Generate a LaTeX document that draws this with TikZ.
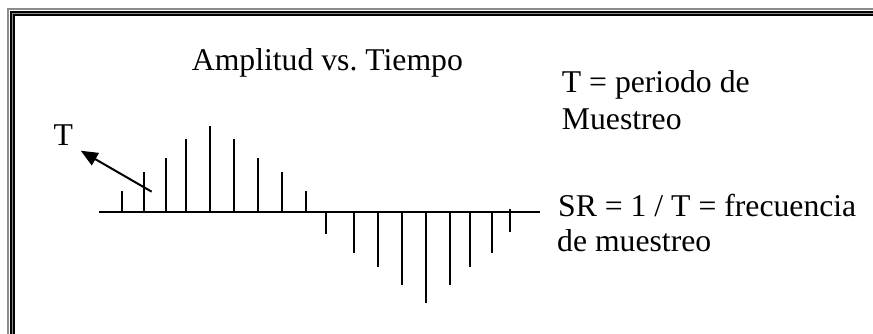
\documentclass[tikz,border=0pt]{standalone}
\usepackage{fontspec}
\setmainfont{Liberation Serif}
\usetikzlibrary{arrows.meta}
\begin{document}
\begin{tikzpicture}[x=1pt,y=-1pt,
  lbl/.style={anchor=base west,inner sep=0pt,font=\fontsize{31.7}{36.5}\selectfont},
  stem/.style={line width=2pt},
  framegray/.style={draw=black!45},
  frameblack/.style={draw=black}]
\useasboundingbox (0,0) rectangle (873,333);
% frame (top and left, running off the right and bottom)
\draw[framegray,line width=2pt] (8,335) -- (8,9) -- (875,9);
\draw[frameblack,line width=1.6pt] (10.8,335) -- (10.8,11.8) -- (875,11.8);
\draw[framegray,line width=0.8pt] (12.4,335) -- (12.4,13.4) -- (875,13.4);
\draw[frameblack,line width=1.6pt] (13.9,335) -- (13.9,14.9) -- (875,14.9);
% texts
\node[lbl] (title) at (191.7,70.5) {Amplitud vs.\ Tiempo};
\node[lbl] (tlab) at (53.3,145) {T};
\node[lbl] (per1) at (561.7,92.7) {T = periodo de};
\node[lbl] (per2) at (561.7,129) {Muestreo};
\node[lbl] (sr1) at (558,216.7) {SR = 1 / T = frecuencia};
\node[lbl] (sr2) at (557,251.7) {de muestreo};
% axis
\coordinate (ax0) at (99,212);
\coordinate (ax1) at (540,212);
\draw[stem] (ax0) -- (ax1);
% positive stems
\foreach \x/\y in {122/190.7,144/171.7,166/157.7,186/139.3,210/125.7,234/139.3,258/157.7,282/171.7,306/190.7}
  \draw[stem] (\x,212) -- (\x,\y);
% negative stems
\foreach \x/\y in {326/234,354/252.7,378/267,402/285.3,426/303.3,450/285.3,470/267,491.7/252.7}
  \draw[stem] (\x,212) -- (\x,\y);
\draw[stem] (510,209) -- (510,231.7);
% arrow
\coordinate (arS) at (151.7,191.7);
\coordinate (arE) at (80.7,150.7);
\draw[line width=2pt,-{Triangle[length=17pt,width=14pt]}] (arS) -- (arE);
\end{tikzpicture}
\end{document}
